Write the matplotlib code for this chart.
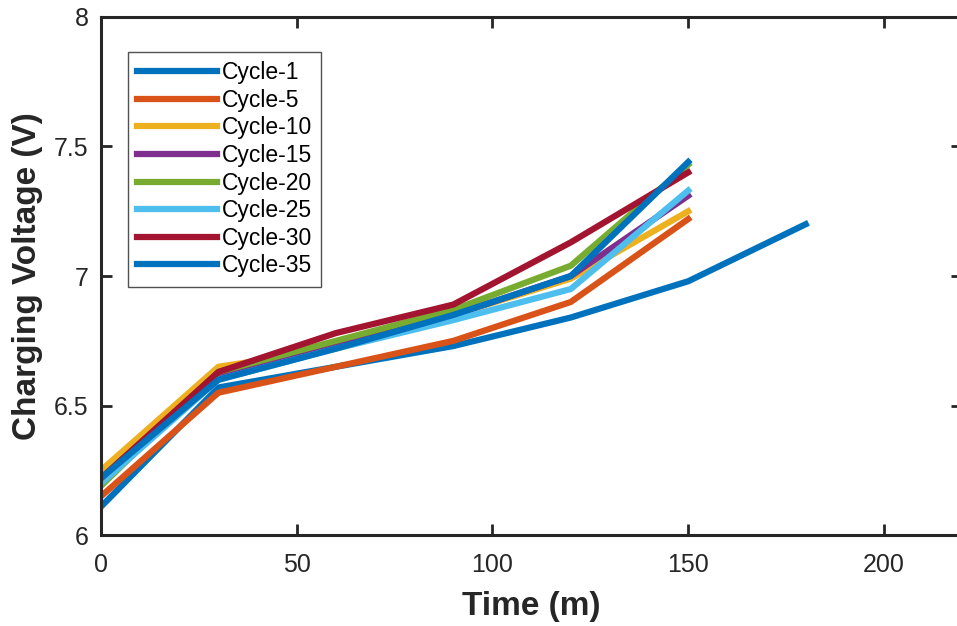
import numpy as np
import matplotlib.pyplot as plt

plt.rcParams['font.family'] = ['Liberation Sans', 'DejaVu Sans']

time_min = [0, 30, 60, 90, 120, 150, 180]

cycle_labels = ['Cycle-1', 'Cycle-5', 'Cycle-10', 'Cycle-15',
                'Cycle-20', 'Cycle-25', 'Cycle-30', 'Cycle-35']

cycle_1 = [6.11, 6.57, 6.65, 6.73, 6.84, 6.98, 7.20]
cycle_5 = [6.15, 6.55, 6.65, 6.75, 6.90, 7.22]
cycle_10 = [6.25, 6.65, 6.72, 6.85, 6.99, 7.25]
cycle_15 = [6.20, 6.62, 6.73, 6.85, 7.00, 7.31]
cycle_20 = [6.19, 6.63, 6.75, 6.87, 7.04, 7.43]
cycle_25 = [6.20, 6.60, 6.72, 6.83, 6.95, 7.33]
cycle_30 = [6.22, 6.63, 6.78, 6.89, 7.13, 7.40]
cycle_35 = [6.22, 6.60, 6.72, 6.85, 7.00, 7.44]

colors = ['#0072BD', '#D95319', '#EDB120', '#7E2F8E',
          '#77AC30', '#4DBEEE', '#A2142F', '#0072BD']

series = [cycle_1, cycle_5, cycle_10, cycle_15, cycle_20, cycle_25, cycle_30, cycle_35]

fig = plt.figure(figsize=(9.57, 6.26), dpi=100)
ax = fig.add_axes([0.1055, 0.145, 0.90, 0.828])

for vals, lab, c in zip(series, cycle_labels, colors):
    ax.plot(time_min[:len(vals)], vals, color=c, lw=4.5, label=lab)

ax.set_xlim(0, 220)
ax.set_ylim(6, 8)
ax.set_xticks([0, 50, 100, 150, 200])
ax.set_yticks([6, 6.5, 7, 7.5, 8])
ax.set_yticklabels(['6', '6.5', '7', '7.5', '8'])
ax.tick_params(direction='in', length=8, width=2, labelsize=18,
               top=True, right=True, colors='#262626')
ax.tick_params(axis='x', pad=13)
ax.tick_params(axis='y', pad=9)
for s in ax.spines.values():
    s.set_linewidth(2.2)
    s.set_color('#262626')
# right edge of the box falls outside the picture
ax.spines['right'].set_visible(False)

ax.set_xlabel('Time (m)', fontsize=24, fontweight='bold', color='#262626', labelpad=10)
ax.set_ylabel('Charging Voltage (V)', fontsize=24, fontweight='bold', color='#262626', labelpad=8)

leg = ax.legend(loc='upper left', bbox_to_anchor=(0.031, 0.932), borderaxespad=0,
                fontsize=16.5, handlelength=3.5, handletextpad=0.2, labelspacing=0.2,
                fancybox=False, edgecolor='#262626', borderpad=0.4)
leg.get_frame().set_linewidth(1.0)

fig.savefig('out.png', dpi=100)
